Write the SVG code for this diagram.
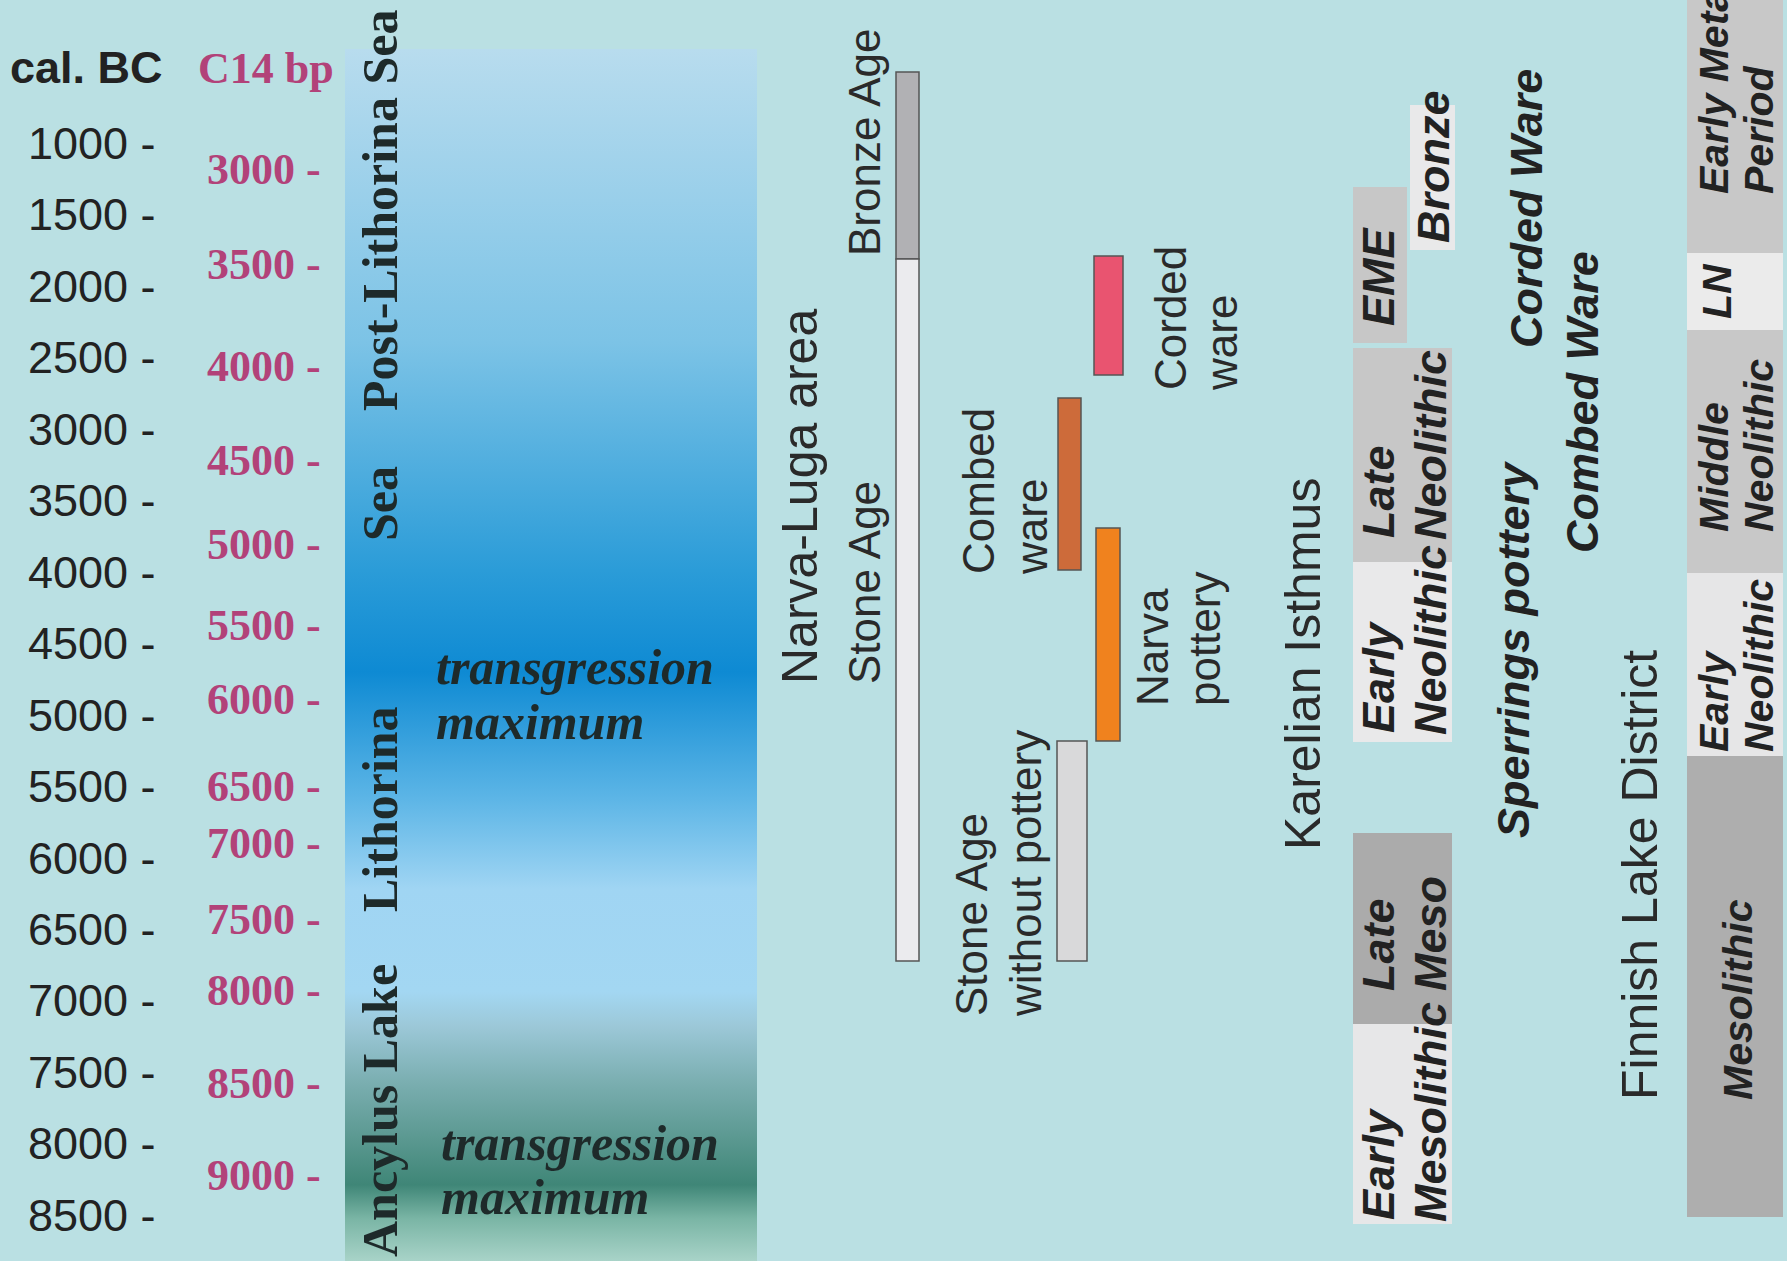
<svg xmlns="http://www.w3.org/2000/svg" width="1787" height="1261" viewBox="0 0 1787 1261">
<defs>
<linearGradient id="sea" x1="0" y1="0" x2="0" y2="1">
<stop offset="0" stop-color="#b8dcee"/>
<stop offset="0.242" stop-color="#7cc3e6"/>
<stop offset="0.43" stop-color="#2b9cd8"/>
<stop offset="0.514" stop-color="#0e8ad3"/>
<stop offset="0.618" stop-color="#5cb5e6"/>
<stop offset="0.693" stop-color="#a0d5f3"/>
<stop offset="0.778" stop-color="#a3d7f2"/>
<stop offset="0.806" stop-color="#9cc8d8"/>
<stop offset="0.853" stop-color="#7aaeb0"/>
<stop offset="0.900" stop-color="#5a9890"/>
<stop offset="0.937" stop-color="#3f8677"/>
<stop offset="0.965" stop-color="#7ab5a5"/>
<stop offset="1" stop-color="#a8d3c8"/>
</linearGradient>
<style>
.cal{font-family:"Liberation Sans",Arial,sans-serif;font-size:45px;fill:#222;}
.c14{font-family:"Liberation Serif","Times New Roman",serif;font-weight:bold;font-size:44px;fill:#b24279;}
.sea{font-family:"Liberation Serif","Times New Roman",serif;font-weight:bold;font-size:50px;fill:#1e2a2a;}
.tm{font-family:"Liberation Serif","Times New Roman",serif;font-weight:bold;font-style:italic;font-size:50px;fill:#1e2a2a;}
.lab{font-family:"Liberation Sans",Arial,sans-serif;font-size:44px;fill:#2a2a2a;}
.big{font-family:"Liberation Sans",Arial,sans-serif;font-size:50px;fill:#2a2a2a;}
.bi{font-family:"Liberation Sans",Arial,sans-serif;font-weight:bold;font-style:italic;font-size:45px;fill:#222;}
.bf{font-family:"Liberation Sans",Arial,sans-serif;font-weight:bold;font-style:italic;font-size:41px;fill:#222;}
.bar{stroke:#555;stroke-width:1.5;}
</style>
</defs>
<rect x="0" y="0" width="1787" height="1261" fill="#bae0e3"/>

<g id="axis-calbc">
<text class="cal" x="10" y="83" font-weight="bold">cal. BC</text>
<text class="cal" x="28" y="159">1000 -</text>
<text class="cal" x="28" y="230">1500 -</text>
<text class="cal" x="28" y="302">2000 -</text>
<text class="cal" x="28" y="373">2500 -</text>
<text class="cal" x="28" y="445">3000 -</text>
<text class="cal" x="28" y="516">3500 -</text>
<text class="cal" x="28" y="588">4000 -</text>
<text class="cal" x="28" y="659">4500 -</text>
<text class="cal" x="28" y="731">5000 -</text>
<text class="cal" x="28" y="802">5500 -</text>
<text class="cal" x="28" y="874">6000 -</text>
<text class="cal" x="28" y="945">6500 -</text>
<text class="cal" x="28" y="1016">7000 -</text>
<text class="cal" x="28" y="1088">7500 -</text>
<text class="cal" x="28" y="1159">8000 -</text>
<text class="cal" x="28" y="1231">8500 -</text>
</g>

<g id="axis-c14">
<text class="c14" x="198" y="83" font-size="45">C14 bp</text>
<text class="c14" x="207" y="184">3000 -</text>
<text class="c14" x="207" y="279">3500 -</text>
<text class="c14" x="207" y="381">4000 -</text>
<text class="c14" x="207" y="475">4500 -</text>
<text class="c14" x="207" y="559">5000 -</text>
<text class="c14" x="207" y="640">5500 -</text>
<text class="c14" x="207" y="714">6000 -</text>
<text class="c14" x="207" y="801">6500 -</text>
<text class="c14" x="207" y="858">7000 -</text>
<text class="c14" x="207" y="934">7500 -</text>
<text class="c14" x="207" y="1005">8000 -</text>
<text class="c14" x="207" y="1098">8500 -</text>
<text class="c14" x="207" y="1190">9000 -</text>
</g>

<g id="baltic-stages">
<rect x="345" y="49" width="412" height="1212" fill="url(#sea)"/>
<text class="sea" transform="translate(397,411) rotate(-90)" font-size="51">Post-Lithorina Sea</text>
<text class="sea" transform="translate(397,541) rotate(-90)">Sea</text>
<text class="sea" transform="translate(397,912) rotate(-90)">Lithorina</text>
<text class="sea" transform="translate(397,1257) rotate(-90)" font-size="47">Ancylus Lake</text>
<text class="tm" x="436" y="684">transgression</text>
<text class="tm" x="436" y="739">maximum</text>
<text class="tm" x="441" y="1160">transgression</text>
<text class="tm" x="441" y="1214">maximum</text>
</g>

<g id="narva-luga">
<text class="big" transform="translate(817,684) rotate(-90)">Narva-Luga area</text>
<text class="lab" transform="translate(880,256) rotate(-90)">Bronze Age</text>
<text class="lab" transform="translate(880,684) rotate(-90)">Stone Age</text>
<rect class="bar" x="896" y="72" width="23" height="187" fill="#b1b1b4"/>
<rect class="bar" x="896" y="259" width="23" height="702" fill="#ebebee"/>
</g>

<g id="combed-ware">
<rect class="bar" x="1058" y="398" width="23" height="172" fill="#cd6b3a"/>
<text class="lab" transform="translate(994,574) rotate(-90)">Combed</text>
<text class="lab" transform="translate(1047,574) rotate(-90)">ware</text>
</g>

<g id="corded-ware">
<rect class="bar" x="1094" y="256" width="29" height="119" fill="#e95470"/>
<text class="lab" transform="translate(1186,390) rotate(-90)">Corded</text>
<text class="lab" transform="translate(1237,390) rotate(-90)">ware</text>
</g>

<g id="narva-pottery">
<rect class="bar" x="1096" y="528" width="24" height="213" fill="#f0821e"/>
<text class="lab" transform="translate(1168,706) rotate(-90)">Narva</text>
<text class="lab" transform="translate(1220,706) rotate(-90)">pottery</text>
</g>

<g id="stone-age-without-pottery">
<rect class="bar" x="1057" y="741" width="30" height="220" fill="#d9d9da"/>
<text class="lab" transform="translate(987,1016) rotate(-90)">Stone Age</text>
<text class="lab" transform="translate(1041,1016) rotate(-90)">without pottery</text>
</g>

<g id="karelian-isthmus">
<text class="big" transform="translate(1320,850) rotate(-90)">Karelian Isthmus</text>
<rect x="1410" y="105" width="45" height="145" fill="#e9e9ea"/>
<rect x="1353" y="187" width="54" height="156" fill="#c7c7c7"/>
<rect x="1353" y="348" width="99" height="214" fill="#c7c7c7"/>
<rect x="1353" y="562" width="99" height="180" fill="#e9e9ea"/>
<rect x="1353" y="833" width="99" height="191" fill="#ababab"/>
<rect x="1353" y="1024" width="99" height="200" fill="#e7e7e8"/>
<text class="bi" transform="translate(1449,243) rotate(-90)">Bronze</text>
<text class="bi" transform="translate(1394,326) rotate(-90)">EME</text>
<text class="bi" transform="translate(1394,538) rotate(-90)">Late</text>
<text class="bi" transform="translate(1446,540) rotate(-90)">Neolithic</text>
<text class="bi" transform="translate(1394,733) rotate(-90)">Early</text>
<text class="bi" transform="translate(1446,735) rotate(-90)">Neolithic</text>
<text class="bi" transform="translate(1394,991) rotate(-90)">Late</text>
<text class="bi" transform="translate(1446,991) rotate(-90)">Meso</text>
<text class="bi" transform="translate(1394,1220) rotate(-90)">Early</text>
<text class="bi" transform="translate(1446,1222) rotate(-90)">Mesolithic</text>
</g>

<g id="sperrings">
<text class="bi" font-size="46" transform="translate(1529,838) rotate(-90)">Sperrings pottery</text>
<text class="bi" transform="translate(1542,348) rotate(-90)">Corded Ware</text>
<text class="bi" transform="translate(1598,553) rotate(-90)">Combed Ware</text>
</g>

<g id="finnish-lake-district">
<text class="big" transform="translate(1657,1100) rotate(-90)">Finnish Lake District</text>
<rect x="1687" y="0" width="96" height="253" fill="#c8c8c8"/>
<rect x="1687" y="253" width="96" height="77" fill="#ebebeb"/>
<rect x="1687" y="330" width="96" height="243" fill="#c8c8c8"/>
<rect x="1687" y="573" width="96" height="183" fill="#e6e6e7"/>
<rect x="1687" y="756" width="96" height="461" fill="#aeaeae"/>
<text class="bf" transform="translate(1728,194) rotate(-90)">Early Metal</text>
<text class="bf" transform="translate(1773,194) rotate(-90)">Period</text>
<text class="bf" transform="translate(1731,319) rotate(-90)">LN</text>
<text class="bf" transform="translate(1728,532) rotate(-90)">Middle</text>
<text class="bf" transform="translate(1773,532) rotate(-90)">Neolithic</text>
<text class="bf" transform="translate(1728,752) rotate(-90)">Early</text>
<text class="bf" transform="translate(1773,752) rotate(-90)">Neolithic</text>
<text class="bf" transform="translate(1752,1100) rotate(-90)">Mesolithic</text>
</g>
</svg>
